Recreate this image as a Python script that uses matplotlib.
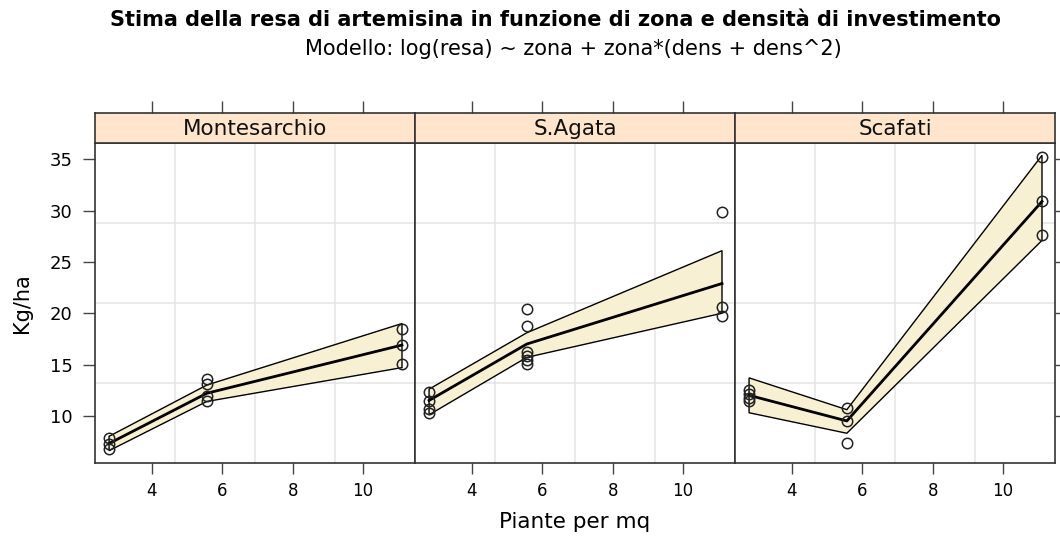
import numpy as np
import matplotlib
matplotlib.use("Agg")
import matplotlib.pyplot as plt

matplotlib.rcParams['font.family'] = ['DejaVu Sans']

# ── data ──
zones = ["Montesarchio", "S.Agata", "Scafati"]
dens = [2.78, 5.56, 11.11]

obs_x = {
    "Montesarchio": [2.78, 2.78, 2.78, 5.56, 5.56, 5.56, 5.56, 11.11, 11.11, 11.11],
    "S.Agata": [2.78, 2.78, 2.78, 2.78, 5.56, 5.56, 5.56, 5.56, 5.56, 5.56, 11.11, 11.11, 11.11],
    "Scafati": [2.78, 2.78, 2.78, 2.78, 5.56, 5.56, 5.56, 11.11, 11.11, 11.11],
}
obs_y = {
    "Montesarchio": [7.8, 7.3, 6.8, 13.6, 13.1, 11.9, 11.4, 18.5, 16.9, 15.1],
    "S.Agata": [12.3, 11.4, 10.7, 10.3, 20.4, 18.8, 16.2, 15.8, 15.4, 15.1, 29.9, 20.6, 19.7],
    "Scafati": [12.5, 12.1, 11.7, 11.4, 10.8, 9.5, 7.35, 35.2, 30.9, 27.6],
}
fit = {
    "Montesarchio": [7.3, 12.2, 16.9],
    "S.Agata": [11.5, 17.0, 22.9],
    "Scafati": [12.0, 9.5, 30.9],
}
upper = {
    "Montesarchio": [8.0, 13.0, 19.0],
    "S.Agata": [12.6, 18.1, 26.1],
    "Scafati": [13.7, 10.6, 35.4],
}
lower = {
    "Montesarchio": [6.6, 11.4, 14.7],
    "S.Agata": [10.1, 15.7, 20.0],
    "Scafati": [10.3, 8.3, 27.1],
}

xticks = [4, 6, 8, 10]
yticks = [10, 15, 20, 25, 30, 35]
xlim = (2.38, 11.48)
ylim = (5.4, 36.6)

W, H = 1060, 544
fig = plt.figure(figsize=(W / 100, H / 100), dpi=100)

strip_col = "#FFE5CC"
band_col = "#F7F0D3"
grid_col = "#E6E6E6"
frame_col = "#333333"
tick_col = "#444444"

left0, pw = 95, 320
ptop, pbot = 143, 463
stop = 113

for i, z in enumerate(zones):
    x0 = left0 + i * pw
    ax = fig.add_axes([x0 / W, 1 - pbot / H, pw / W, (pbot - ptop) / H])
    sax = fig.add_axes([x0 / W, 1 - ptop / H, pw / W, (ptop - stop) / H])

    ax.set_xlim(*xlim)
    ax.set_ylim(*ylim)

    # lattice-style grid (3 equally spaced lines each way)
    for gx in np.linspace(xlim[0], xlim[1], 5)[1:-1]:
        ax.axvline(gx, color=grid_col, lw=1.2, zorder=0)
    for gy in np.linspace(ylim[0], ylim[1], 5)[1:-1]:
        ax.axhline(gy, color=grid_col, lw=1.2, zorder=0)

    px = dens + dens[::-1]
    py = upper[z] + lower[z][::-1]
    ax.fill(px, py, facecolor=band_col, edgecolor="black", lw=1.0, zorder=2)
    ax.plot(dens, fit[z], color="black", lw=2.0, zorder=3)
    ax.plot(obs_x[z], obs_y[z], linestyle="none", marker="o", ms=7.5,
            mfc="none", mec="#222222", mew=1.1, zorder=4)

    for sp in ax.spines.values():
        sp.set_color(frame_col)
        sp.set_linewidth(1.2)

    ax.set_xticks(xticks)
    ax.tick_params(axis="x", direction="out", length=8, width=1.0, color=tick_col,
                   labelsize=12, pad=6, top=False)
    ax.set_yticks(yticks)
    if i == 0:
        ax.tick_params(axis="y", direction="out", length=9, width=1.0, color=tick_col,
                       labelsize=13, pad=7, left=True, right=False)
    elif i == 2:
        ax.tick_params(axis="y", direction="out", length=9, width=1.0, color=tick_col,
                       left=False, labelleft=False, right=True, labelright=False)
    else:
        ax.tick_params(axis="y", left=False, labelleft=False)

    # strip with top ticks
    sax.set_xlim(*xlim)
    sax.set_ylim(0, 1)
    sax.set_facecolor(strip_col)
    sax.set_yticks([])
    sax.set_xticks(xticks)
    sax.tick_params(axis="x", direction="out", length=9, width=1.0, color=tick_col,
                    bottom=False, labelbottom=False, top=True, labeltop=False)
    for sp in sax.spines.values():
        sp.set_color(frame_col)
        sp.set_linewidth(1.2)
    sax.text(0.5, 0.47, z, transform=sax.transAxes, ha="center", va="center",
             fontsize=15.5, color="#111111")

fig.text(556 / W, 1 - 20 / H, "Stima della resa di artemisina in funzione di zona e densità di investimento",
         ha="center", va="center", fontsize=15, fontweight="bold")
fig.text(573 / W, 1 - 49 / H, "Modello: log(resa) ~ zona + zona*(dens + dens^2)",
         ha="center", va="center", fontsize=15)
fig.text(575 / W, 1 - 522 / H, "Piante per mq", ha="center", va="center", fontsize=15.5)
fig.text(22 / W, 1 - 303 / H, "Kg/ha", ha="center", va="center", rotation=90, fontsize=15)

fig.savefig("out.png", dpi=100)
